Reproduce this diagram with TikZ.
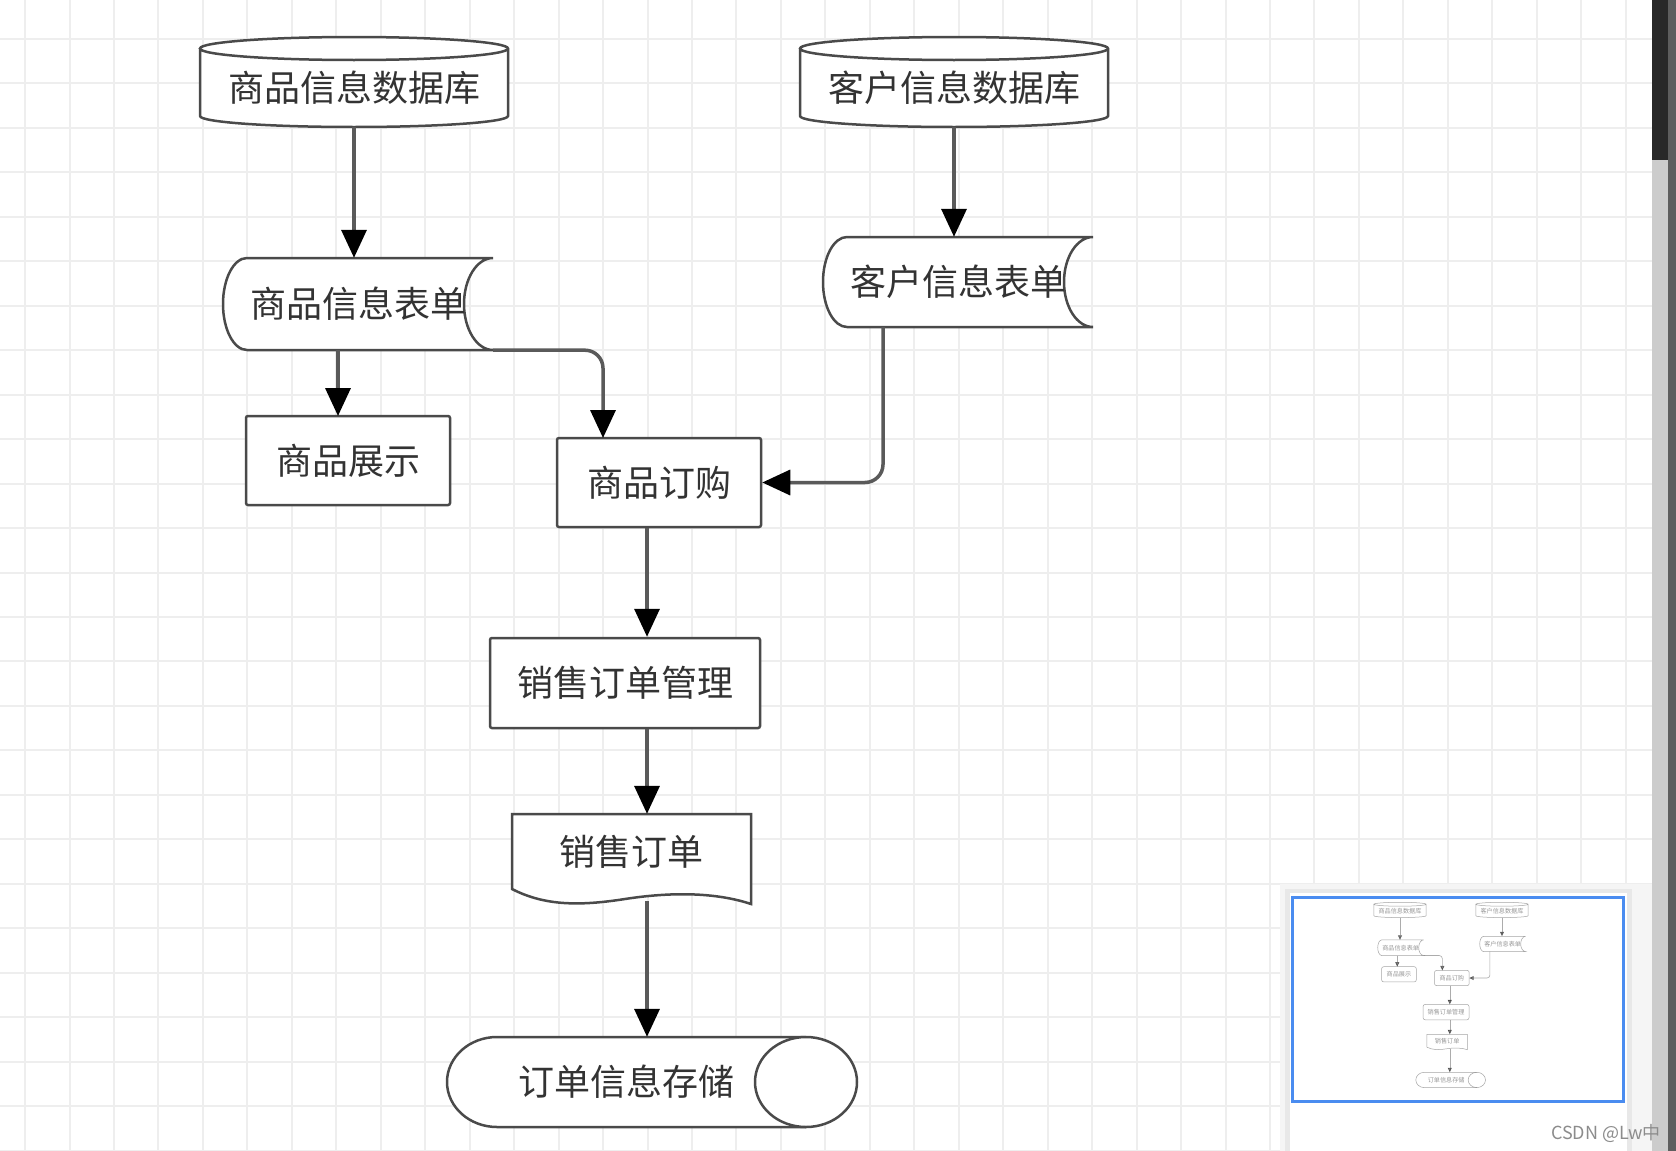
\documentclass[tikz,border=0pt]{standalone}
\usepackage{fontspec}
\newfontfamily\cjk{Noto Sans CJK SC}
\usetikzlibrary{arrows.meta}
\definecolor{gridc}{HTML}{EEEEEE}
\definecolor{shapec}{HTML}{4A4A4A}
\definecolor{linec}{HTML}{5A5A5A}
\definecolor{textc}{HTML}{333333}
\definecolor{framec}{HTML}{4A8CF0}
\tikzset{
	lbl/.style={font=\cjk\fontsize{36}{38}\selectfont, text=textc, inner sep=0pt},
	box/.style={lbl, draw=shapec, fill=white, line width=2.5pt, rounded corners=2pt},
	outline/.style={draw=shapec, fill=white, line width=2.5pt},
	arrow/.style={draw=linec, line width=3.5pt, rounded corners=18pt,
		-{Triangle[length=28pt,width=25pt,color=black]}},
	gridline/.style={draw=gridc, line width=2pt}
}

% the whole flow chart, #1 = prefix of the node names
\newcommand\flowchart[1]{%
	%% -- Outlines of the special shapes
	\draw[outline] (200,-48.5) -- (200,-116)
		arc[start angle=180,end angle=360,x radius=154,y radius=11]
		-- (508,-48.5) arc[start angle=0,end angle=360,x radius=154,y radius=11.5];
	\draw[outline] (800,-48.5) -- (800,-116)
		arc[start angle=180,end angle=360,x radius=154,y radius=11]
		-- (1108,-48.5) arc[start angle=0,end angle=360,x radius=154,y radius=11.5];
	\draw[outline] (493,-258) -- (247,-258)
		arc[start angle=90,end angle=270,x radius=24,y radius=46]
		-- (493,-350) arc[start angle=270,end angle=90,x radius=29,y radius=46];
	\draw[outline] (1093,-237) -- (847,-237)
		arc[start angle=90,end angle=270,x radius=24,y radius=45]
		-- (1093,-327) arc[start angle=270,end angle=90,x radius=29,y radius=45];
	\draw[outline] (512,-814) -- (751,-814) -- (751,-904)
		.. controls (715,-892) and (670,-892) .. (625,-899)
		.. controls (580,-906) and (545,-906) .. (512,-889) -- cycle;
	\draw[outline] (806,-1037) -- (497,-1037)
		arc[start angle=90,end angle=270,x radius=50,y radius=45] -- (806,-1127);
	\draw[outline] (806,-1082) ellipse[x radius=51,y radius=45];
	%
	%% -- Nodes
	\node[lbl, minimum width=308pt, minimum height=78.5pt] (#1db1) at (354,-87.75) {商品信息数据库};
	\node[lbl, minimum width=308pt, minimum height=78.5pt] (#1db2) at (954,-87.75) {客户信息数据库};
	\node[lbl, minimum width=270pt, minimum height=92pt] (#1form1) at (358,-304) {商品信息表单};
	\node[lbl, minimum width=270pt, minimum height=90pt] (#1form2) at (958,-282) {客户信息表单};
	\node[box, minimum width=204pt, minimum height=89pt] (#1show) at (348,-460.5) {商品展示};
	\node[box, minimum width=204pt, minimum height=89pt] (#1order) at (659,-482.5) {商品订购};
	\node[box, minimum width=270pt, minimum height=90pt] (#1mgmt) at (625,-683) {销售订单管理};
	\node[lbl, minimum width=239pt, minimum height=76pt] (#1doc) at (631.5,-852) {销售订单};
	\node[lbl, minimum height=90pt] (#1store) at (626,-1082) {订单信息存储};
	%
	\coordinate (#1showin) at (338,-416);
	\coordinate (#1orderin) at (603,-438);
	\coordinate (#1cout) at (883,-327);
	\coordinate (#1axis) at (647,0);
	\coordinate (#1docout) at (647,-901);
	%
	%% -- Connectors
	\draw[arrow] (#1db1.south) -- (#1db1.south |- #1form1.north);
	\draw[arrow] (#1db2.south) -- (#1db2.south |- #1form2.north);
	\draw[arrow] (#1showin |- #1form1.south) -- (#1showin);
	\draw[arrow] (#1form1.south east) -| (#1orderin);
	\draw[arrow] (#1cout) |- (#1order.east);
	\draw[arrow] (#1axis |- #1order.south) -- (#1axis |- #1mgmt.north);
	\draw[arrow] (#1axis |- #1mgmt.south) -- (#1axis |- #1doc.north);
	\draw[arrow] (#1docout) -- (#1axis |- #1store.north);
}

\begin{document}
\begin{tikzpicture}[x=1pt, y=1pt]
	\useasboundingbox (0,0) rectangle (1676,-1151);
	\fill[white] (0,0) rectangle (1676,-1151);
	
	%% -- Grid
	\foreach \i in {0,...,36}
		\draw[gridline] (25.1+\i*44.46,0) -- ++(0,-1151);
	\foreach \j in {0,...,25}
		\draw[gridline] (0,-39-\j*44.46) -- ++(1652,0);
	
	%% -- Flow chart
	\flowchart{}
	
	%% -- Scroll bar
	\fill[black!20] (1652,0) rectangle (1668,-1151);
	\fill[black!84] (1652,0) rectangle (1668,-160);
	\fill[black!63] (1668,0) rectangle (1676,-1151);
	
	%% -- Overview panel
	\fill[black!4] (1280,-884) rectangle (1652,-1151);
	\fill[black!9] (1285,-889) rectangle (1632,-1151);
	\fill[white] (1290,-893) rectangle (1627,-1151);
	\draw[framec, line width=3pt] (1292,-897) rectangle (1623,-1101);
	\begin{scope}[shift={(1339.8,-896)}, scale=0.17, transform shape, opacity=0.5,
		outline/.append style={line width=0.5pt},
		box/.append style={line width=0.5pt},
		arrow/.style={draw=linec, line width=0.6pt, rounded corners=3pt,
			-{Triangle[length=4.5pt,width=4pt,color=black]}}]
		\flowchart{m}
	\end{scope}
	
	\node[font=\cjk\fontsize{18}{20}\selectfont, text=black!45, anchor=east, inner sep=0pt]
		(mark) at (1661,-1133) {CSDN @Lw中};
\end{tikzpicture}
\end{document}
